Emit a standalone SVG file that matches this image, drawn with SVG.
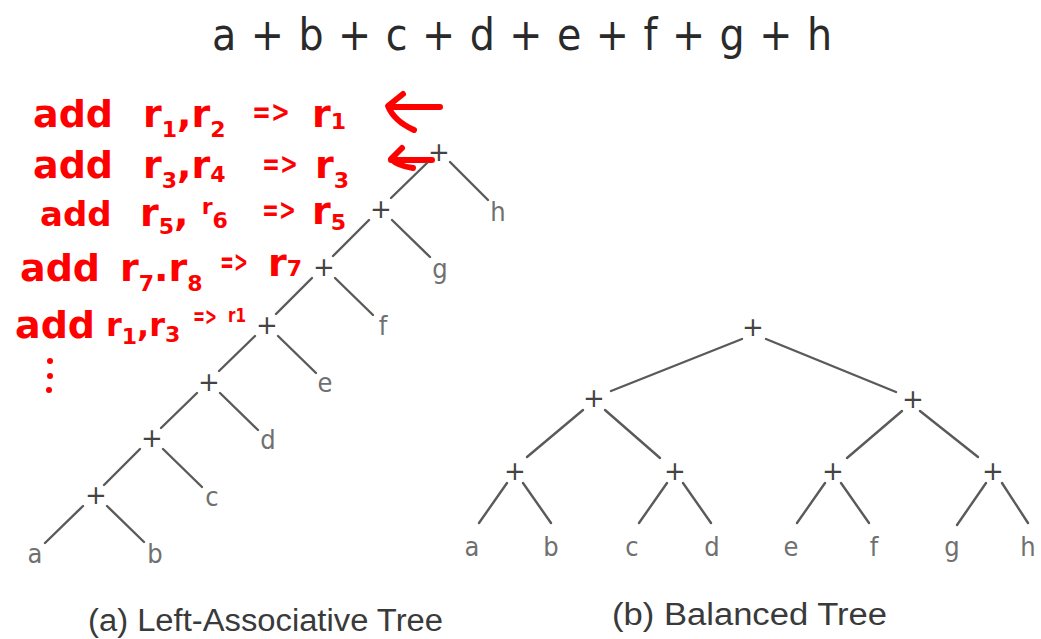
<svg xmlns="http://www.w3.org/2000/svg" width="1041" height="639" viewBox="0 0 1041 639">
  <style>
    .title { font-family: "DejaVu Sans Condensed", "DejaVu Sans", sans-serif; font-size: 44px; fill: #2a2a2a; }
    .op { font-family: "DejaVu Sans", sans-serif; font-size: 26px; fill: #444; text-anchor: middle; }
    .leaf { font-family: "DejaVu Sans Condensed", "DejaVu Sans", sans-serif; font-size: 27px; fill: #707070; text-anchor: middle; }
    .edge { stroke: #5a5a5a; stroke-width: 2.4; stroke-linecap: round; fill: none; }
    .cap { font-family: "Liberation Sans Narrow", "Liberation Sans", Arial, sans-serif; font-size: 31px; fill: #3a3a3a; }
    .ink { font-family: "DejaVu Sans", sans-serif; font-weight: bold; font-size: 38px; fill: #ff0000; }
    .arrow { font-size: 30px; }
    .sub { font-size: 22px; }
    .pen { stroke: #ff0000; stroke-width: 6; stroke-linecap: round; stroke-linejoin: round; fill: none; }
  </style>

  <rect width="1041" height="639" fill="#ffffff"/>

  <!-- expression -->
  <text id="expr" class="title" x="212" y="50" textLength="620" lengthAdjust="spacing">a + b + c + d + e + f + g + h</text>

  <!-- handwritten register notes -->
  <g id="notes">
    <text class="ink" x="33" y="127">add</text>
    <text class="ink" x="143" y="127">r<tspan class="sub" dy="10">1</tspan><tspan dy="-10">,</tspan>r<tspan class="sub" dy="10">2</tspan></text>
    <text class="ink arrow" x="252" y="122" textLength="38" lengthAdjust="spacingAndGlyphs">=&gt;</text>
    <text class="ink" x="312" y="127">r<tspan class="sub" dy="2">1</tspan></text>
    <path class="pen" d="M440,107 L390,107 M403,94 L388,106 Q394,121 414,130"/>

    <text class="ink" x="33" y="178">add</text>
    <text class="ink" x="143" y="178">r<tspan class="sub" dy="10">3</tspan><tspan dy="-10">,</tspan>r<tspan class="sub" dy="4">4</tspan></text>
    <text class="ink arrow" x="262" y="174" textLength="36" lengthAdjust="spacingAndGlyphs">=&gt;</text>
    <text class="ink" x="315" y="178">r<tspan class="sub" dy="10">3</tspan></text>
    <path class="pen" d="M432,160 L391,160 M402,148 L391,159 Q398,166 413,168"/>

    <text class="ink" x="40" y="226" style="font-size:34px">add</text>
    <text class="ink" x="140" y="226">r<tspan class="sub" dy="8">5</tspan><tspan dy="-8">,</tspan> <tspan dy="-12" class="sub">r</tspan><tspan class="sub" dy="14">6</tspan></text>
    <text class="ink arrow" x="262" y="220" textLength="34" lengthAdjust="spacingAndGlyphs">=&gt;</text>
    <text class="ink" x="312" y="224">r<tspan class="sub" dy="6">5</tspan></text>

    <text class="ink" x="20" y="281">add</text>
    <text class="ink" x="120" y="281">r<tspan class="sub" dy="10">7</tspan><tspan dy="-10">.</tspan>r<tspan class="sub" dy="10">8</tspan></text>
    <text class="ink arrow" x="220" y="272" textLength="28" lengthAdjust="spacingAndGlyphs">=&gt;</text>
    <text class="ink" x="268" y="276">r<tspan class="sub" dy="0">7</tspan></text>

    <text class="ink" x="15" y="338">add</text>
    <text class="ink" x="106" y="336" style="font-size:32px">r<tspan class="sub" dy="8">1</tspan><tspan dy="-8">,</tspan>r<tspan class="sub" dy="6">3</tspan></text>
    <text class="ink" x="193" y="325" style="font-size:24px" textLength="24" lengthAdjust="spacingAndGlyphs">=&gt;</text>
    <text class="ink" x="228" y="322" style="font-size:20px" textLength="18" lengthAdjust="spacingAndGlyphs">r1</text>

    <circle cx="50" cy="361" r="3" fill="#ff0000"/>
    <circle cx="50" cy="376" r="3" fill="#ff0000"/>
    <circle cx="49" cy="390" r="3" fill="#ff0000"/>
  </g>

  <!-- (a) left-associative tree: edges -->
  <g id="left-edges">
    <line class="edge" x1="427" y1="163" x2="391" y2="198"/>
    <line class="edge" x1="450" y1="162" x2="488" y2="200"/>
    <line class="edge" x1="369" y1="220" x2="333" y2="256"/>
    <line class="edge" x1="392" y1="220" x2="430" y2="257"/>
    <line class="edge" x1="312" y1="278" x2="276" y2="314"/>
    <line class="edge" x1="335" y1="278" x2="373" y2="315"/>
    <line class="edge" x1="255" y1="336" x2="219" y2="371"/>
    <line class="edge" x1="278" y1="336" x2="316" y2="373"/>
    <line class="edge" x1="197" y1="393" x2="161" y2="428"/>
    <line class="edge" x1="220" y1="393" x2="258" y2="430"/>
    <line class="edge" x1="140" y1="449" x2="104" y2="485"/>
    <line class="edge" x1="163" y1="449" x2="202" y2="487"/>
    <line class="edge" x1="83" y1="506" x2="45" y2="543"/>
    <line class="edge" x1="107" y1="506" x2="144" y2="542"/>
  </g>

  <!-- (a) left-associative tree: nodes -->
  <g id="left-nodes">
    <text class="op" x="439" y="161">+</text>
    <text class="op" x="381" y="218">+</text>
    <text class="op" x="324" y="276">+</text>
    <text class="op" x="267" y="334">+</text>
    <text class="op" x="209" y="391">+</text>
    <text class="op" x="152" y="447">+</text>
    <text class="op" x="96" y="504">+</text>
    <text class="leaf" x="498" y="221">h</text>
    <text class="leaf" x="440" y="278">g</text>
    <text class="leaf" x="383" y="335">f</text>
    <text class="leaf" x="325" y="392">e</text>
    <text class="leaf" x="268" y="449">d</text>
    <text class="leaf" x="212" y="506">c</text>
    <text class="leaf" x="155" y="563">b</text>
    <text class="leaf" x="35" y="563">a</text>
  </g>

  <!-- (b) balanced tree: edges -->
  <g id="balanced-edges">
    <line class="edge" x1="742" y1="339" x2="611" y2="391"/>
    <line class="edge" x1="766" y1="339" x2="896" y2="392"/>
    <line class="edge" x1="583" y1="410" x2="527" y2="457"/>
    <line class="edge" x1="605" y1="410" x2="660" y2="458"/>
    <line class="edge" x1="902" y1="411" x2="847" y2="458"/>
    <line class="edge" x1="920" y1="411" x2="978" y2="457"/>
    <line class="edge" x1="507" y1="483" x2="479" y2="523"/>
    <line class="edge" x1="523" y1="483" x2="551" y2="523"/>
    <line class="edge" x1="667" y1="483" x2="639" y2="523"/>
    <line class="edge" x1="683" y1="483" x2="711" y2="523"/>
    <line class="edge" x1="825" y1="483" x2="797" y2="523"/>
    <line class="edge" x1="841" y1="483" x2="869" y2="523"/>
    <line class="edge" x1="986" y1="483" x2="957" y2="525"/>
    <line class="edge" x1="1002" y1="483" x2="1028" y2="523"/>
  </g>

  <!-- (b) balanced tree: nodes -->
  <g id="balanced-nodes">
    <text class="op" x="753" y="336">+</text>
    <text class="op" x="594" y="407">+</text>
    <text class="op" x="913" y="408">+</text>
    <text class="op" x="515" y="480">+</text>
    <text class="op" x="675" y="480">+</text>
    <text class="op" x="833" y="480">+</text>
    <text class="op" x="993" y="480">+</text>
    <text class="leaf" x="472" y="556">a</text>
    <text class="leaf" x="551" y="556">b</text>
    <text class="leaf" x="632" y="556">c</text>
    <text class="leaf" x="712" y="556">d</text>
    <text class="leaf" x="791" y="556">e</text>
    <text class="leaf" x="874" y="556">f</text>
    <text class="leaf" x="952" y="556">g</text>
    <text class="leaf" x="1028" y="556">h</text>
  </g>

  <!-- captions -->
  <text id="cap-a" class="cap" x="88" y="631" textLength="355" lengthAdjust="spacingAndGlyphs">(a)  Left-Associative Tree</text>
  <text id="cap-b" class="cap" x="612" y="625" textLength="275" lengthAdjust="spacingAndGlyphs">(b)  Balanced Tree</text>
</svg>
